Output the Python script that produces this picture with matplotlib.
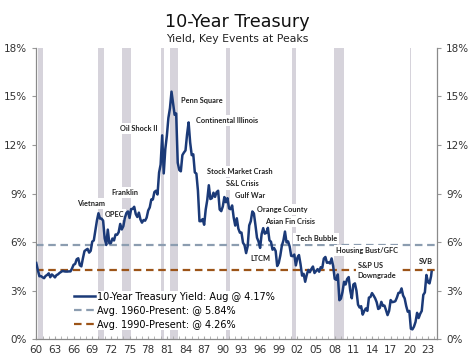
import numpy as np
import matplotlib.pyplot as plt
from matplotlib.ticker import FixedLocator, MultipleLocator

# 10-year treasury yield, quarterly readings (Jan/Apr/Jul/Oct), 1960 - Jul 2023, then Aug 2023
yields = [
    4.72, 4.28, 3.90, 3.91,   # 1960
    3.84, 3.78, 3.92, 3.98,
    4.08, 3.84, 4.01, 3.93,
    3.83, 3.97, 4.02, 4.11,
    4.17, 4.23, 4.20, 4.19,
    4.19, 4.20, 4.20, 4.38,   # 1965
    4.61, 4.66, 4.95, 5.01,
    4.58, 4.51, 5.01, 5.45,
    5.53, 5.59, 5.36, 5.47,
    6.04, 6.11, 6.72, 7.33,
    7.79, 7.46, 7.46, 7.33,   # 1970
    6.24, 5.83, 6.78, 5.93,
    5.95, 6.23, 6.11, 6.48,
    6.46, 6.62, 7.13, 6.79,
    6.99, 7.51, 7.81, 7.90,
    7.50, 8.05, 8.06, 8.19,   # 1975
    7.74, 7.56, 7.83, 7.41,
    7.21, 7.37, 7.33, 7.52,
    7.96, 8.15, 8.64, 8.64,
    9.10, 9.18, 8.95, 10.30,
    10.80, 12.60, 10.25, 11.75,  # 1980
    12.57, 13.68, 14.28, 15.30,
    14.59, 13.87, 13.95, 10.91,
    10.46, 10.38, 11.38, 11.54,
    11.67, 12.65, 13.40, 12.16,
    11.38, 11.43, 10.31, 10.24,  # 1985
    9.19, 7.30, 7.30, 7.43,
    7.08, 8.02, 8.61, 9.52,
    8.67, 8.72, 9.06, 8.80,
    9.09, 9.18, 8.02, 7.92,
    8.21, 8.79, 8.47, 8.72,   # 1990
    8.09, 8.04, 8.27, 7.53,
    7.03, 7.48, 6.84, 6.59,
    6.60, 5.97, 5.81, 5.33,
    5.75, 7.04, 7.30, 7.90,
    7.78, 7.06, 6.28, 6.04,   # 1995
    5.65, 6.51, 6.87, 6.53,
    6.58, 6.89, 6.12, 6.03,
    5.54, 5.64, 5.46, 4.53,
    4.72, 5.18, 5.79, 6.11,
    6.66, 5.99, 6.05, 5.74,   # 2000
    5.16, 5.14, 5.24, 4.57,
    5.04, 5.21, 4.65, 3.94,
    4.05, 3.56, 3.98, 4.29,
    4.15, 4.35, 4.50, 4.10,
    4.22, 4.34, 4.18, 4.46,   # 2005
    4.42, 4.99, 5.09, 4.73,
    4.76, 4.69, 5.00, 4.53,
    3.74, 3.68, 4.01, 2.42,
    2.52, 2.93, 3.56, 3.39,
    3.73, 3.85, 3.01, 2.54,   # 2010
    3.39, 3.46, 3.00, 2.15,
    1.97, 2.05, 1.53, 1.75,
    1.91, 1.76, 2.58, 2.62,
    2.86, 2.71, 2.54, 2.30,
    1.88, 1.94, 2.32, 2.07,   # 2015
    2.09, 1.81, 1.50, 1.76,
    2.43, 2.30, 2.32, 2.36,
    2.58, 2.87, 2.89, 3.15,
    2.71, 2.53, 2.06, 1.71,
    1.76, 0.66, 0.62, 0.79,   # 2020
    1.08, 1.64, 1.32, 1.58,
    1.76, 2.75, 2.90, 3.98,
    3.53, 3.46, 3.90, 4.17,
]
dates = 1960 + np.arange(len(yields)) / 4
dates[-1] = 2023 + 7 / 12

avg_1960 = 5.84
avg_1990 = 4.26

recessions = [(1960.25, 1961.08), (1969.92, 1970.83), (1973.83, 1975.17),
              (1980.0, 1980.5), (1981.5, 1982.83), (1990.5, 1991.17),
              (2001.17, 2001.83), (2007.92, 2009.5), (2020.08, 2020.25)]

events = ["Vietnam", "OPEC", "Franklin", "Oil Shock II", "Penn Square",
          "Continental Illinois", "Stock Market Crash", "S&L Crisis", "Gulf War",
          "Orange County", "Asian Fin Crisis", "LTCM", "Tech Bubble",
          "Housing Bust/GFC", "S&P US\nDowngrade", "SVB"]
event_x = [1966.6, 1971.0, 1972.0, 1973.4, 1983.3, 1985.7, 1987.4, 1990.5, 1991.9,
           1995.5, 1996.8, 1994.5, 2001.7, 2008.2, 2011.7, 2021.5]
event_y = [8.39, 7.71, 9.07, 13.0, 14.75, 13.5, 10.37, 9.6, 8.87,
           8.04, 7.28, 5.02, 6.25, 5.49, 4.28, 4.81]

navy = "#1b3a78"
fig = plt.figure(figsize=(4.74, 3.63), dpi=100)
ax = fig.add_axes([0.0759, 0.065, 0.846, 0.803])

for start, end in recessions:
    ax.axvspan(start, end, color="#d6d3db", lw=0, zorder=1)

ax.axhline(avg_1960, color="#8c9db0", lw=1.6, ls=(0, (3.4, 2.1)), zorder=2,
           label="Avg. 1960-Present: @ %.2f%%" % avg_1960)
ax.axhline(avg_1990, color="#9c5418", lw=1.6, ls=(0, (3.4, 2.1)), zorder=2,
           label="Avg. 1990-Present: @ %.2f%%" % avg_1990)
ax.plot(dates, yields, color=navy, lw=1.8, zorder=4,
        label="10-Year Treasury Yield: Aug @ %.2f%%" % yields[-1])

for name, x, y in zip(events, event_x, event_y):
    ax.text(x, y, name, fontsize=5.3, fontweight="bold", family="Lato",
            color="#222222", ha="left", va="center", zorder=3, linespacing=1.5,
            bbox=dict(facecolor="white", edgecolor="none", pad=1.5))

handles, labels = ax.get_legend_handles_labels()
order = [2, 0, 1]
leg = ax.legend([handles[i] for i in order], [labels[i] for i in order],
                loc="lower left", bbox_to_anchor=(0.093, 0.032), fontsize=7,
                frameon=True, facecolor="white", edgecolor="none", framealpha=1,
                handlelength=2.2, handletextpad=0.2, borderpad=0.05,
                labelspacing=0.4, borderaxespad=0)
leg.set_zorder(5)

ax.set_xlim(1959.95, 2024.45)
ax.set_ylim(0, 18)
years = np.arange(1960, 2024, 3)
ax.xaxis.set_major_locator(FixedLocator(years))
ax.set_xticklabels(["%02d" % (y % 100) for y in years])
ax.xaxis.set_minor_locator(MultipleLocator(1))
ax.tick_params(axis="x", which="both", direction="in", length=2, color="#aaaaaa",
               labelsize=7.5, labelcolor="#333333", pad=4)
ax.set_yticks(np.arange(0, 19, 3))
ax.set_yticklabels(["%d%%" % v for v in range(0, 19, 3)])
ax.tick_params(axis="y", which="both", direction="out", length=3, color="#999999",
               labelsize=7.5, labelcolor="#333333", left=True, right=True,
               labelleft=True, labelright=True)

for side in ["left", "right", "bottom"]:
    ax.spines[side].set_color("#8a8a8a")
    ax.spines[side].set_linewidth(0.9)
ax.spines["top"].set_visible(False)

fig.text(0.5, 0.94, "10-Year Treasury", ha="center", va="center", fontsize=12.7,
         color="#111111")
fig.text(0.5, 0.893, "Yield, Key Events at Peaks", ha="center", va="center",
         fontsize=7.8, color="#222222")

fig.savefig("out.png", dpi=100)
